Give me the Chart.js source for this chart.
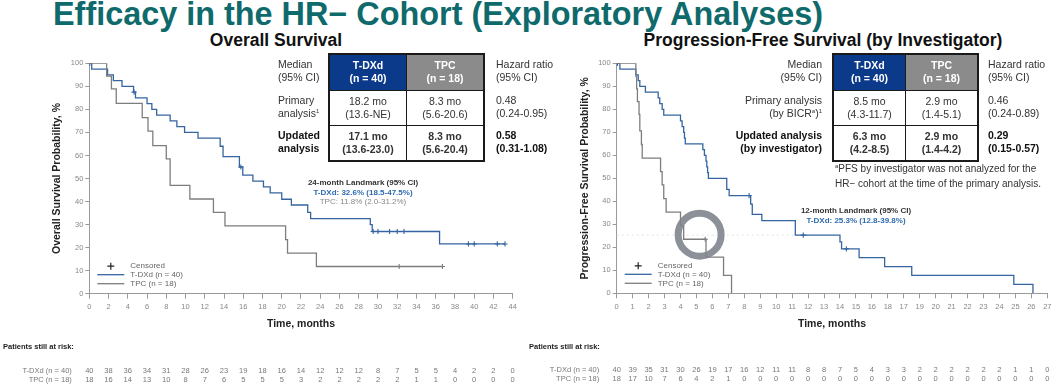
<!DOCTYPE html>
<html>
<head>
<meta charset="utf-8">
<script src="https://cdn.jsdelivr.net/npm/chart.js@4.4.1/dist/chart.umd.min.js"></script>
<style>
  body { margin: 0; background: #fff; font-family: Arial, "Liberation Sans", sans-serif; color: #222; }
  #page { position: relative; width: 1056px; height: 390px; overflow: hidden; background: #fff; }
  canvas { position: absolute; top: 50px; }
  .abs { position: absolute; white-space: nowrap; }
  .title { left: 53px; top: -2.4px; font-size: 32.4px; line-height: 32.4px; font-weight: bold; color: #0f6a6c; }
  .sub { top: 32px; font-size: 17.5px; line-height: 17.5px; font-weight: bold; color: #111; text-align: center; }
  .lbl { font-size: 10.5px; line-height: 13px; color: #333; }
  .b { font-weight: bold; color: #111; }
  sup { font-size: 6px; line-height: 0; vertical-align: 4px; }
  table.km { position: absolute; top: 53px; border-collapse: collapse; border: 2px solid #1a1a1a; }
  table.km td { border: 1.5px solid #1a1a1a; text-align: center; font-size: 10.5px; line-height: 13px; color: #333; padding: 0; }
  table.km td.hd { color: #fff; font-weight: bold; }
  .land { font-size: 8px; line-height: 9.5px; text-align: center; }
</style>
</head>
<body>
<div id="page">
  <div class="abs title">Efficacy in the HR− Cohort (Exploratory Analyses)</div>
  <div class="abs sub" style="left:126px;width:300px;">Overall Survival</div>
  <div class="abs sub" style="left:623px;width:400px;">Progression-Free Survival (by Investigator)</div>

  <canvas id="osChart" width="530" height="340" style="left:0px"></canvas>
  <canvas id="pfsChart" width="530" height="340" style="left:526px"></canvas>

  <!-- OS table -->
  <div class="abs lbl" style="left:278px;top:58px;">Median<br>(95% CI)</div>
  <div class="abs lbl" style="left:278px;top:94px;">Primary<br>analysis<sup>1</sup></div>
  <div class="abs lbl b" style="left:278px;top:129px;">Updated<br>analysis</div>
  <table class="km" style="left:328px;width:157px;height:107px;">
    <tr style="height:36px"><td class="hd" style="background:#0c3a8a;width:50%">T-DXd<br>(n = 40)</td><td class="hd" style="background:#8b8b8b">TPC<br>(n = 18)</td></tr>
    <tr style="height:35px"><td>18.2 mo<br>(13.6-NE)</td><td>8.3 mo<br>(5.6-20.6)</td></tr>
    <tr style="height:36px"><td class="b">17.1 mo<br>(13.6-23.0)</td><td class="b">8.3 mo<br>(5.6-20.4)</td></tr>
  </table>
  <div class="abs lbl" style="left:496px;top:58px;">Hazard ratio<br>(95% CI)</div>
  <div class="abs lbl" style="left:496px;top:94px;">0.48<br>(0.24-0.95)</div>
  <div class="abs lbl b" style="left:496px;top:129px;">0.58<br>(0.31-1.08)</div>

  <!-- PFS table -->
  <div class="abs lbl" style="right:234px;top:58px;text-align:right;">Median<br>(95% CI)</div>
  <div class="abs lbl" style="right:234px;top:94px;text-align:right;">Primary analysis<br>(by BICR<sup>a</sup>)<sup>1</sup></div>
  <div class="abs lbl b" style="right:234px;top:129px;text-align:right;">Updated analysis<br>(by investigator)</div>
  <table class="km" style="left:832px;width:147px;height:107px;">
    <tr style="height:36px"><td class="hd" style="background:#0c3a8a;width:50%">T-DXd<br>(n = 40)</td><td class="hd" style="background:#8b8b8b">TPC<br>(n = 18)</td></tr>
    <tr style="height:35px"><td>8.5 mo<br>(4.3-11.7)</td><td>2.9 mo<br>(1.4-5.1)</td></tr>
    <tr style="height:36px"><td class="b">6.3 mo<br>(4.2-8.5)</td><td class="b">2.9 mo<br>(1.4-4.2)</td></tr>
  </table>
  <div class="abs lbl" style="left:988px;top:58px;">Hazard ratio<br>(95% CI)</div>
  <div class="abs lbl" style="left:988px;top:94px;">0.46<br>(0.24-0.89)</div>
  <div class="abs lbl b" style="left:988px;top:129px;">0.29<br>(0.15-0.57)</div>
  <div class="abs lbl" style="left:835px;top:161px;font-size:10px;line-height:15px;"><sup>a</sup>PFS by investigator was not analyzed for the<br>HR− cohort at the time of the primary analysis.</div>

  <!-- landmark notes -->
  <div class="abs land" style="left:283px;top:178px;width:160px;">
    <b style="color:#333">24-month Landmark (95% CI)</b><br>
    <b style="color:#2e6cb0">T-DXd: 32.6% (18.5-47.5%)</b><br>
    <span style="color:#888">TPC: 11.8% (2.0-31.2%)</span>
  </div>
  <div class="abs land" style="left:776px;top:206px;width:160px;">
    <b style="color:#333">12-month Landmark (95% CI)</b><br>
    <b style="color:#2e6cb0">T-DXd: 25.3% (12.8-39.8%)</b>
  </div>
</div>

<script>
// ----------------------------------------
// Data
// ----------------------------------------
const osTickLabels = ['0','2','4','6','8','10','12','14','16','18','20','22','24','26','28','30','32','34','36','38','40','42','44'];
const pfsTickLabels = ['0','1','2','3','4','5','6','7','8','9','10','11','12','13','14','15','16','18','17','19','20','21','22','23','24','25','26','27'];
const yTickValues = [0, 10, 20, 30, 40, 50, 60, 70, 80, 90, 100];

// Overall survival, T-DXd
const osTdxdTime = [0, 0.25, 1.9, 2.5, 3.4, 4.6, 4.8, 6.0, 6.5, 7.0, 8.4, 9.1, 9.9, 11.3, 13.6, 13.9, 15.6, 15.95, 17.0, 18.1, 18.8, 20.0, 21.0, 22.7, 23.0, 29.2, 29.4, 36.4, 43.2];
const osTdxdSurv = [100, 97.5, 95, 92.5, 90, 87.5, 85, 82.5, 80, 77.5, 75, 72.5, 70, 67.5, 64, 59.5, 55, 51.5, 48.9, 46.4, 43.8, 41, 38.5, 35.3, 32.6, 30.0, 27, 21.6, 21.6];
const osTdxdCensorTime = [0.05, 4.65, 15.75, 29.5, 30.0, 31.2, 32.0, 32.7, 39.4, 40.0, 42.4, 43.2];
const osTdxdCensorSurv = [100, 87.5, 55, 27, 27, 27, 27, 27, 21.6, 21.6, 21.6, 21.6];

// Overall survival, TPC
const osTpcTime = [0, 1.8, 2.3, 2.8, 5.5, 6.1, 6.6, 8.0, 8.4, 10.45, 12.9, 14.1, 20.4, 20.6, 23.6, 36.7];
const osTpcSurv = [100, 94.4, 88.9, 82.6, 76.4, 70.6, 64.3, 58.5, 47.0, 41.1, 35.3, 29.4, 23.5, 17.6, 11.8, 11.8];
const osTpcCensorTime = [32.2, 36.7];
const osTpcCensorSurv = [11.8, 11.8];

// Progression-free survival, T-DXd
const pfsTdxdTime = [0, 0.2, 1.2, 1.35, 1.45, 1.8, 2.6, 2.7, 2.85, 2.95, 4.0, 4.1, 4.2, 4.25, 4.3, 5.4, 5.5, 5.6, 5.65, 5.7, 5.75, 6.9, 7.05, 8.4, 8.5, 9.1, 11.2, 14.0, 14.1, 15.2, 16.8, 18.5, 24.9, 26.1];
const pfsTdxdSurv = [100, 97.5, 95, 92.5, 90, 87.5, 85, 82.5, 80, 77.5, 75, 72.5, 70, 67.5, 65, 62.5, 60, 57.5, 55, 52.5, 50, 45.2, 42.5, 38.8, 34.3, 31.6, 25.3, 22.4, 19.3, 15.5, 11.6, 7.8, 3.9, 0];
const pfsTdxdCensorTime = [0.05, 8.3, 11.7, 14.4];
const pfsTdxdCensorSurv = [100, 42.5, 25.3, 19.3];

// Progression-free survival, TPC
const pfsTpcTime = [0, 1.2, 1.25, 1.3, 1.4, 1.45, 1.55, 1.6, 2.75, 2.85, 2.95, 3.1, 4.0, 4.2, 5.6, 6.7, 7.2];
const pfsTpcSurv = [100, 94.4, 88.9, 83.3, 77.8, 70.6, 64.7, 58.8, 52.9, 47.1, 41.2, 35.3, 29.4, 23.5, 15.7, 7.8, 0];
const pfsTpcCensorTime = [5.55];
const pfsTpcCensorSurv = [23.5];

// Patients still at risk
const osRiskTdxd = [40, 38, 36, 34, 31, 28, 26, 23, 19, 18, 16, 14, 12, 12, 12, 8, 7, 5, 5, 4, 2, 2, 0];
const osRiskTpc = [18, 16, 14, 13, 10, 8, 7, 6, 5, 5, 5, 3, 2, 2, 2, 2, 2, 1, 1, 0, 0, 0, 0];
const pfsRiskTdxd = [40, 39, 35, 31, 30, 26, 19, 17, 16, 12, 11, 11, 8, 8, 7, 5, 4, 3, 3, 2, 2, 2, 2, 2, 2, 1, 1, 0];
const pfsRiskTpc = [18, 17, 10, 7, 6, 4, 2, 1, 0, 0, 0, 0, 0, 0, 0, 0, 0, 0, 0, 0, 0, 0, 0, 0, 0, 0, 0, 0];

const pfsLandmark = { month: 12, value: 25.3 };
const cursorRing = { month: 5.2, value: 25.5 };

// ----------------------------------------
// Styling
// ----------------------------------------
const FONT = 'Arial, "Liberation Sans", sans-serif';
const BLUE = '#3465a0';
const GRAY = '#7d7d7d';
Chart.defaults.font.family = FONT;
Chart.defaults.color = '#888';

const toPoints = (xs, ys) => xs.map((x, i) => ({ x, y: ys[i] }));

function kmDatasets(tdxdT, tdxdS, tpcT, tpcS, cTdxdT, cTdxdS, cTpcT, cTpcS) {
  const line = (data, color) => ({
    type: 'line', data, borderColor: color, borderWidth: 1.3, stepped: true,
    pointRadius: 0, fill: false
  });
  const cens = (data, color) => ({
    type: 'scatter', data, borderColor: color, backgroundColor: color,
    pointStyle: 'cross', pointRadius: 2.6, borderWidth: 1.1
  });
  return [
    line(toPoints(tpcT, tpcS), GRAY),
    line(toPoints(tdxdT, tdxdS), BLUE),
    cens(toPoints(cTpcT, cTpcS), GRAY),
    cens(toPoints(cTdxdT, cTdxdS), BLUE)
  ];
}

// legend, axis titles, at-risk rows, landmark line, cursor ring
const kmDecor = {
  id: 'kmDecor',
  beforeDatasetsDraw(chart, args, opts) {
    if (!opts.landmark) return;
    const { ctx, scales: { x, y } } = chart;
    ctx.save();
    ctx.strokeStyle = '#e2e2e2';
    ctx.lineWidth = 1;
    ctx.setLineDash([2, 3]);
    ctx.beginPath();
    ctx.moveTo(x.getPixelForValue(0), y.getPixelForValue(opts.landmark.value));
    ctx.lineTo(x.getPixelForValue(opts.landmark.month), y.getPixelForValue(opts.landmark.value));
    ctx.stroke();
    ctx.restore();
  },
  afterDatasetsDraw(chart, args, opts) {
    const { ctx, chartArea: a, scales: { x, y } } = chart;
    ctx.save();

    // cursor ring
    if (opts.ring) {
      ctx.beginPath();
      ctx.arc(x.getPixelForValue(opts.ring.month), y.getPixelForValue(opts.ring.value), 21.5, 0, Math.PI * 2);
      ctx.lineWidth = 7;
      ctx.strokeStyle = 'rgba(128,133,142,0.9)';
      ctx.stroke();
    }

    // legend
    const lx = a.left, by = a.bottom;
    ctx.font = '8px ' + FONT;
    ctx.textBaseline = 'middle';
    ctx.textAlign = 'left';
    ctx.strokeStyle = '#222';
    ctx.lineWidth = 1.2;
    ctx.beginPath();
    ctx.moveTo(lx + 18, by - 27.5); ctx.lineTo(lx + 25, by - 27.5);
    ctx.moveTo(lx + 21.5, by - 31); ctx.lineTo(lx + 21.5, by - 24);
    ctx.stroke();
    ctx.fillStyle = '#666';
    ctx.fillText('Censored', lx + 41, by - 27.5);
    [[BLUE, 'T-DXd (n = 40)', 19], [GRAY, 'TPC (n = 18)', 10]].forEach(([c, t, dy]) => {
      ctx.strokeStyle = c;
      ctx.lineWidth = 1.3;
      ctx.beginPath();
      ctx.moveTo(lx + 8, by - dy); ctx.lineTo(lx + 35, by - dy);
      ctx.stroke();
      ctx.fillText(t, lx + 41, by - dy);
    });
    ctx.restore();
  },
  afterDraw(chart, args, opts) {
    const { ctx, chartArea: a, scales: { x } } = chart;
    ctx.save();
    ctx.fillStyle = '#222';
    ctx.font = 'bold 10.5px ' + FONT;
    ctx.textAlign = 'center';
    ctx.textBaseline = 'middle';
    // x title
    ctx.fillText('Time, months', (a.left + a.right) / 2, a.bottom + 30.5);
    // y title
    ctx.translate(a.left - 32, (a.top + a.bottom) / 2);
    ctx.rotate(-Math.PI / 2);
    ctx.fillText(opts.yTitle, 0, 0);
    ctx.setTransform(1, 0, 0, 1, 0, 0);

    // patients still at risk
    ctx.font = 'bold 7.5px ' + FONT;
    ctx.textAlign = 'left';
    ctx.fillText('Patients still at risk:', 3, a.bottom + 53.5);
    ctx.font = '7.5px ' + FONT;
    ctx.fillStyle = '#777';
    opts.risk.forEach((row, r) => {
      const yy = a.bottom + 77 + r * 8.8;
      ctx.textAlign = 'right';
      ctx.fillText(row.label, a.left - 17.5, yy);
      ctx.textAlign = 'center';
      row.values.forEach((v, i) => ctx.fillText(String(v), x.getPixelForTick(i), yy));
    });
    ctx.restore();
  }
};

function kmOptions(xMax, xStep, tickLabels, padRight, xHeight, decor) {
  return {
    responsive: false,
    animation: false,
    devicePixelRatio: 1,
    layout: { padding: { top: 13.3, right: padRight, left: 0, bottom: 0 } },
    plugins: { legend: { display: false }, tooltip: { enabled: false }, kmDecor: decor },
    scales: {
      x: {
        type: 'linear', min: 0, max: xMax,
        afterFit: (s) => { s.height = xHeight; },
        afterBuildTicks: (s) => { s.ticks = tickLabels.map((_, i) => ({ value: i * xStep })); },
        ticks: { font: { size: 7.5 }, color: '#888', padding: 4, maxRotation: 0, autoSkip: false,
                 callback: (v, i) => tickLabels[i] },
        grid: { drawOnChartArea: false, tickLength: 5, color: '#9a9a9a' },
        border: { color: '#9a9a9a' }
      },
      y: {
        min: 0, max: 100,
        afterFit: (s) => { s.width = decor.yWidth; },
        afterBuildTicks: (s) => { s.ticks = yTickValues.map(v => ({ value: v })); },
        ticks: { font: { size: 7.5 }, color: '#888', padding: 2 },
        grid: { drawOnChartArea: false, tickLength: 4, color: '#9a9a9a' },
        border: { color: '#9a9a9a' }
      }
    }
  };
}

// ----------------------------------------
// 1. Overall Survival
// ----------------------------------------
new Chart(document.getElementById('osChart'), {
  type: 'line',
  data: {
    datasets: kmDatasets(osTdxdTime, osTdxdSurv, osTpcTime, osTpcSurv,
      osTdxdCensorTime, osTdxdCensorSurv, osTpcCensorTime, osTpcCensorSurv)
  },
  options: kmOptions(44, 2, osTickLabels, 17.3, 96.3, {
    yWidth: 89.3,
    yTitle: 'Overall Survival Probability, %',
    risk: [
      { label: 'T-DXd (n = 40)', values: osRiskTdxd },
      { label: 'TPC (n = 18)', values: osRiskTpc }
    ]
  }),
  plugins: [kmDecor]
});

// ----------------------------------------
// 2. Progression-Free Survival
// ----------------------------------------
new Chart(document.getElementById('pfsChart'), {
  type: 'line',
  data: {
    datasets: kmDatasets(pfsTdxdTime, pfsTdxdSurv, pfsTpcTime, pfsTpcSurv,
      pfsTdxdCensorTime, pfsTdxdCensorSurv, pfsTpcCensorTime, pfsTpcCensorSurv)
  },
  options: kmOptions(27, 1, pfsTickLabels, 8.7, 96.7, {
    yWidth: 90.7,
    yTitle: 'Progression-Free Survival Probability, %',
    landmark: pfsLandmark,
    ring: cursorRing,
    risk: [
      { label: 'T-DXd (n = 40)', values: pfsRiskTdxd },
      { label: 'TPC (n = 18)', values: pfsRiskTpc }
    ]
  }),
  plugins: [kmDecor]
});
</script>
</body>
</html>
